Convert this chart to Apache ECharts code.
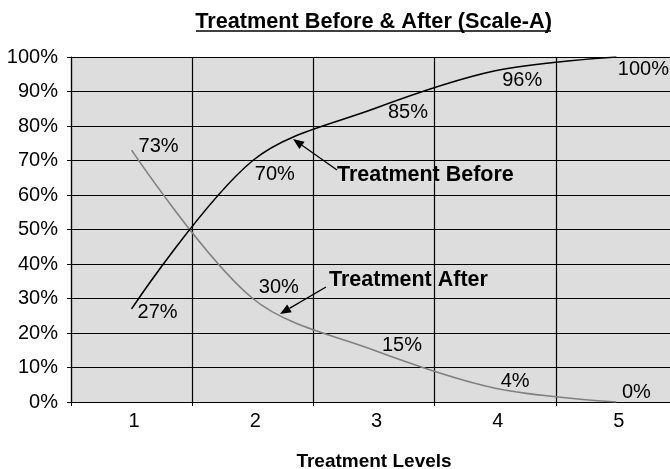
<!DOCTYPE html>
<html>
<head>
<meta charset="utf-8">
<script src="https://cdn.jsdelivr.net/npm/echarts@6/dist/echarts.min.js"></script>
<style>html,body{margin:0;padding:0;background:#fff}#c{width:670px;height:469px}</style>
</head>
<body>
<div id="c"></div>
<script>
var categories = ['1', '2', '3', '4', '5'];
var beforeValues = [27, 70, 85, 96, 100];
var afterValues = [73, 30, 15, 4, 0];
var yTicks = [0, 10, 20, 30, 40, 50, 60, 70, 80, 90, 100];

var FONT = "'Liberation Sans', Arial, sans-serif";
// label offsets (style only): centre of label relative to point
var beforeOffsets = [[26, 4], [22, 14], [34, 4], [27, 10], [27, 12]];
var afterOffsets = [[27, -4], [26, -11], [28, -5], [20, -7], [20, -10]];

function withLabels(vals, offs) {
  return vals.map(function (v, i) {
    return { value: v, label: { position: [offs[i][0] + 0.5, offs[i][1] + 0.5], align: 'center', verticalAlign: 'middle' } };
  });
}

function arrow(x1, y1, x2, y2) {
  var dx = x2 - x1, dy = y2 - y1, len = Math.sqrt(dx * dx + dy * dy);
  var ux = dx / len, uy = dy / len, L = 11, W = 4.5;
  var bx = x2 - ux * L, by = y2 - uy * L;
  return [
    { type: 'line', shape: { x1: x1, y1: y1, x2: bx, y2: by }, style: { stroke: '#000', lineWidth: 1.3 }, z: 100 },
    { type: 'polygon', shape: { points: [[x2, y2], [bx - uy * W, by + ux * W], [bx + uy * W, by - ux * W]] }, style: { fill: '#000' }, z: 100 }
  ];
}

var chart = echarts.init(document.getElementById('c'));
var graphics = [].concat(
  arrow(337, 170, 293, 139),
  arrow(326, 287, 280, 314),
  [
    { type: 'text', left: 337, top: 164, z: 100, style: { text: 'Treatment Before', font: 'bold 21.5px ' + FONT, fill: '#000' } },
    { type: 'text', left: 329, top: 269, z: 100, style: { text: 'Treatment After', font: 'bold 21.5px ' + FONT, fill: '#000' } },
    { type: 'line', shape: { x1: 196, y1: 31, x2: 551, y2: 31 }, style: { stroke: '#000', lineWidth: 1.5 }, z: 100 }
  ]
);

chart.setOption({
  animation: false,
  backgroundColor: '#fff',
  title: {
    text: 'Treatment Before & After (Scale-A)',
    left: 368.5, textAlign: 'center', top: 6,
    textStyle: { fontFamily: FONT, fontWeight: 'bold', fontSize: 21.7, color: '#000', lineHeight: 22 }
  },
  grid: { left: 71, right: -7, top: 57, bottom: 67, show: true, backgroundColor: '#dddddd', borderWidth: 0, outerBoundsMode: 'none', containLabel: false },
  xAxis: {
    type: 'category', data: categories, boundaryGap: true,
    name: 'Treatment Levels', nameLocation: 'middle', nameGap: 50,
    nameTextStyle: { fontFamily: FONT, fontWeight: 'bold', fontSize: 19, color: '#000' },
    axisLine: { lineStyle: { color: '#000', width: 1.2 } },
    axisTick: { show: true, length: 4, lineStyle: { color: '#000' } },
    axisLabel: { fontFamily: FONT, fontSize: 20, color: '#000', margin: 9, padding: [0, 0, 0, 5] },
    splitLine: { show: true, lineStyle: { color: '#000', width: 1.2 } }
  },
  yAxis: {
    type: 'value', min: yTicks[0], max: yTicks[yTicks.length - 1], interval: 10,
    axisLine: { show: true, lineStyle: { color: '#000', width: 1.2 } },
    axisTick: { show: true, length: 4, lineStyle: { color: '#000' } },
    axisLabel: { fontFamily: FONT, fontSize: 20, color: '#000', margin: 13, formatter: '{value}%' },
    splitLine: { show: true, lineStyle: { color: '#000', width: 1.2 } }
  },
  graphic: graphics,
  series: [
    {
      name: 'Treatment Before', type: 'line', smooth: 0.33,
      data: withLabels(beforeValues, beforeOffsets),
      symbol: 'circle', symbolSize: 1, itemStyle: { color: 'rgba(0,0,0,0)', borderWidth: 0 },
      lineStyle: { color: '#000', width: 1.6 },
      label: { show: true, formatter: '{c}%', fontFamily: FONT, fontSize: 20, color: '#000' },
      labelLayout: { hideOverlap: false },
      z: 5
    },
    {
      name: 'Treatment After', type: 'line', smooth: 0.33,
      data: withLabels(afterValues, afterOffsets),
      symbol: 'circle', symbolSize: 1, itemStyle: { color: 'rgba(0,0,0,0)', borderWidth: 0 },
      lineStyle: { color: '#808080', width: 1.6 },
      label: { show: true, formatter: '{c}%', fontFamily: FONT, fontSize: 20, color: '#000' },
      labelLayout: { hideOverlap: false },
      z: 4
    }
  ]
});
</script>
</body>
</html>
